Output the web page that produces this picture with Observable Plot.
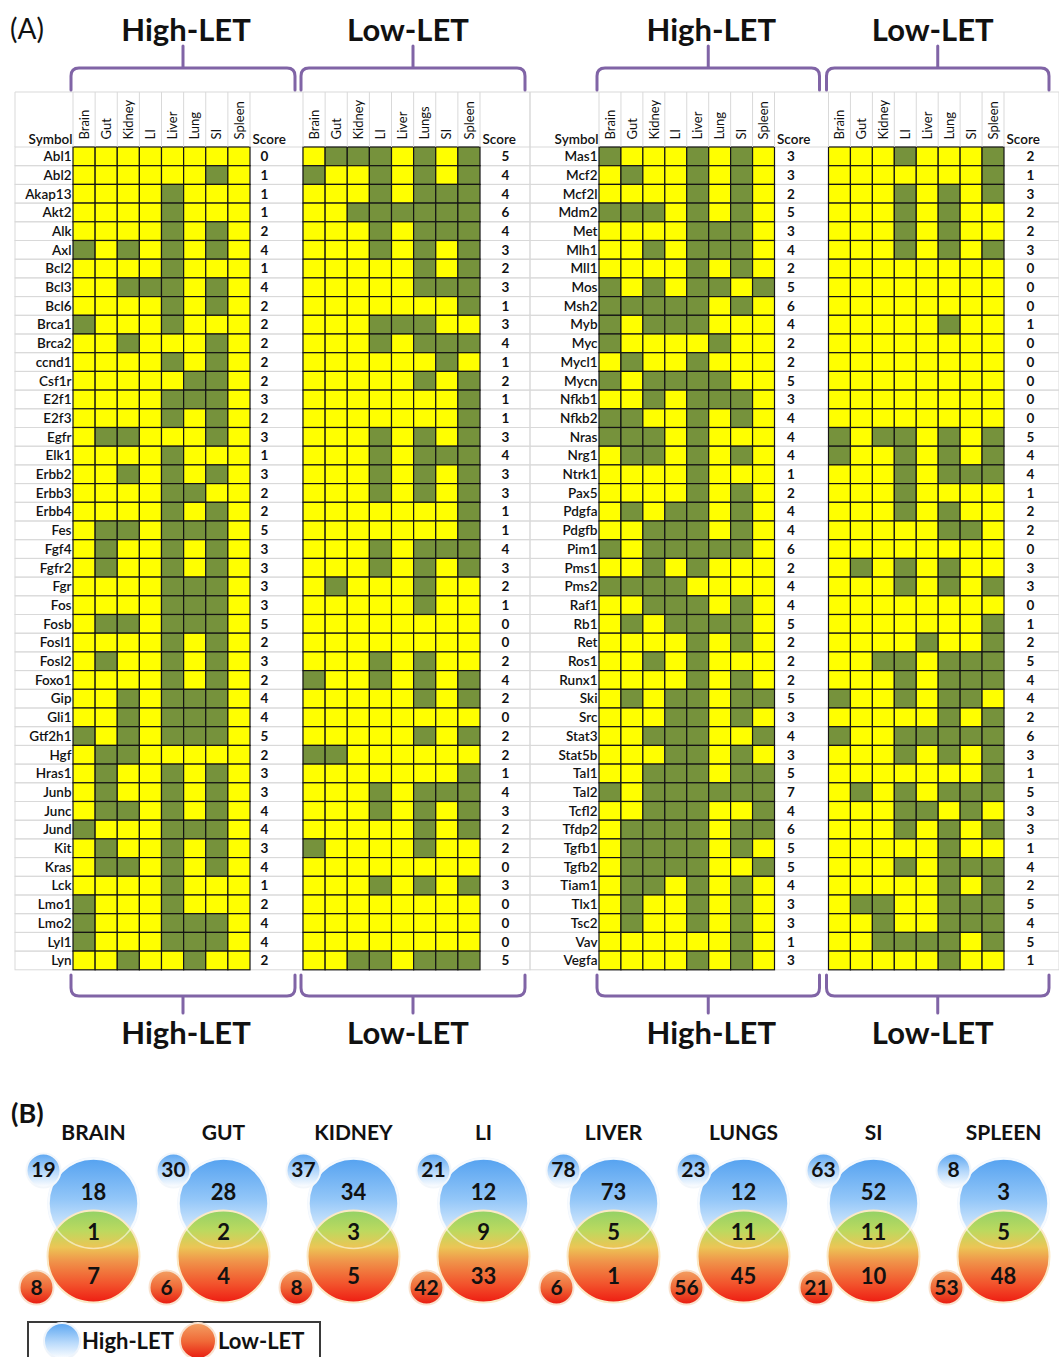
<!DOCTYPE html>
<html><head><meta charset="utf-8">
<script src="https://cdn.jsdelivr.net/npm/d3@7"></script>
<script src="https://cdn.jsdelivr.net/npm/@observablehq/plot@0.6"></script>
<style>
html,body{margin:0;padding:0;background:#fff;}
#fig{position:relative;width:1059px;height:1357px;overflow:hidden;background:#fff;font-family:Lato,"Open Sans",sans-serif;}
#fig > svg{position:absolute;}
</style></head><body><div id="fig"></div>
<script>
// ---------------- DATA ----------------
const organs = ["Brain","Gut","Kidney","LI","Liver","Lung","SI","Spleen"];
const highLabels = ["Brain","Gut","Kidney","LI","Liver","Lung","SI","Spleen"];
const leftLowLabels = ["Brain","Gut","Kidney","LI","Liver","Lungs","SI","Spleen"];
const rightLowLabels = ["Brain","Gut","Kidney","LI","Liver","Lung","SI","Spleen"];

const leftSymbols = ["Abl1","Abl2","Akap13","Akt2","Alk","Axl","Bcl2","Bcl3","Bcl6","Brca1","Brca2","ccnd1","Csf1r","E2f1","E2f3","Egfr","Elk1","Erbb2","Erbb3","Erbb4","Fes","Fgf4","Fgfr2","Fgr","Fos","Fosb","Fosl1","Fosl2","Foxo1","Gip","Gli1","Gtf2h1","Hgf","Hras1","Junb","Junc","Jund","Kit","Kras","Lck","Lmo1","Lmo2","Lyl1","Lyn"];
// one string per gene, one character per organ (1 = dark cell)
const leftHigh = ["00000000","00000010","00001000","00001000","00001010","10101010","00001000","00111010","00001010","10001000",
"00100010","00001010","00000110","00001110","00001010","01100010","00001000","00101010","00001100","00001010",
"01101110","01001010",
"01001010","00001110","00001110","01101110","00001010","01001010","00001010","00101110","00101110","10101110",
"01100000","01001010","01001010","01101010","10001110","01001010","01101010","00001000","10001000","10001110",
"10001110","00100100"];
const leftHighScore = [0,1,1,1,2,4,1,4,2,2,2,2,2,3,2,3,1,3,2,2,5,3,3,3,3,5,2,3,2,4,4,5,2,3,3,4,4,3,4,1,2,4,4,2];
const leftLow = ["01110101","10010101","00010111","00111111","00010111","00010101","00000101","00000111","00000001","00011100",
"00010111","00000010","00000101","00000001","00000001","00010101","00010111","00010101","00010101","00000001",
"00000001","00010111",
"00010101","01000100","00000100","00000000","00000000","00010100","10010101","00000101","00000000","00000101",
"11000000","00000001","00010111","00010101","00000101","10000100","00000000","00010101","00000000","00000000",
"00000000","00110111"];
const leftLowScore = [5,4,4,6,4,3,2,3,1,3,4,1,2,1,1,3,4,3,3,1,1,4,3,2,1,0,0,2,4,2,0,2,2,1,4,3,2,2,0,3,0,0,0,5];

const rightSymbols = ["Mas1","Mcf2","Mcf2l","Mdm2","Met","Mlh1","Mll1","Mos","Msh2","Myb","Myc","Mycl1","Mycn","Nfkb1","Nfkb2","Nras","Nrg1","Ntrk1","Pax5","Pdgfa","Pdgfb","Pim1","Pms1","Pms2","Raf1","Rb1","Ret","Ros1","Runx1","Ski","Src","Stat3","Stat5b","Tal1","Tal2","Tcfl2","Tfdp2","Tgfb1","Tgfb2","Tiam1","Tlx1","Tsc2","Vav","Vegfa"];
const rightHigh = ["10001010","01001010","00001010","11101010","00001110","00101110","00001010","10101101","11111010","10111000",
"10000100","01001000","10111100","00101110","11001010","11101000","01101010","00001000","00001010","01011010",
"00111010","10111110",
"00101000","11110000","00111010","01011110","00001010","00101000","00001010","01011011","00011010","00111001",
"00011010","00111011","10111111","00111001","01111011","01111010","01111001","01101010","01001010","01001010",
"00000010","00001010"];
const rightHighScore = [3,3,2,5,3,4,2,5,6,4,2,2,5,3,4,4,4,1,2,4,4,6,2,4,4,5,2,2,2,5,3,4,3,5,7,4,6,5,5,4,3,3,1,3];
const rightLow = ["00010001","00000001","00010101","00010100","00010100","00010101","00000000","00000000","00000000","00000100",
"00000000","00000000","00000000","00000000","00000000","10110101","10010101","00010111","00010000","00010100",
"00000110","00000000",
"01010100","00010101","00000000","00000001","00001001","00110111","00010111","10010110","00000101","10011111",
"00010101","00000001","01010111","00011010","00010101","00000100","00010111","00000101","01100111","00100111",
"00111101","00000100"];
const rightLowScore = [2,1,3,2,2,3,0,0,0,1,0,0,0,0,0,5,4,4,1,2,2,0,3,3,0,1,2,5,4,4,2,6,3,1,5,3,3,1,4,2,5,4,5,1];

// Venn (B)
const vennOrgans = ["BRAIN","GUT","KIDNEY","LI","LIVER","LUNGS","SI","SPLEEN"];
const highTotal = [19,30,37,21,78,23,63,8];
const highOnly  = [18,28,34,12,73,12,52,3];
const overlap   = [1,2,3,9,5,11,11,5];
const lowOnly   = [7,4,5,33,1,45,10,48];
const lowTotal  = [8,6,8,42,6,56,21,53];

// ---------------- LAYOUT ----------------
const FONT = "Lato, 'Open Sans', sans-serif";
const YELLOW = "#ffff00", GREEN = "#76923c", PURPLE = "#8064a6", GRIDGREY = "#d9d9d9";
const ROW_TOP = 147, ROW_H = 18.7, PANEL_H = 975;
const panels = [
  {ox: 0,   width: 530, gl: 73, gw: 177,   gap: 53, symLeft: 15, scoreDx: [14, 25], symbols: leftSymbols, high: leftHigh, low: leftLow, highScore: leftHighScore, lowScore: leftLowScore, lowLabels: leftLowLabels},
  {ox: 526, width: 533, gl: 73, gw: 175.5, gap: 54, symLeft: 4,  scoreDx: [16, 26], symbols: rightSymbols, high: rightHigh, low: rightLow, highScore: rightHighScore, lowScore: rightLowScore, lowLabels: rightLowLabels}
];
const fig = document.getElementById("fig");

function panel(cfg) {
  const groups = ["High-LET", "Low-LET"];
  const cells = [], rows = [], scores = [];
  cfg.symbols.forEach((s, i) => {
    organs.forEach((o, j) => {
      cells.push({group: "High-LET", symbol: s, organ: o, v: +cfg.high[i][j]});
      cells.push({group: "Low-LET", symbol: s, organ: o, v: +cfg.low[i][j]});
    });
    rows.push({group: "High-LET", symbol: s});
    rows.push({group: "Low-LET", symbol: s});
    scores.push({group: "High-LET", symbol: s, score: cfg.highScore[i]});
    scores.push({group: "Low-LET", symbol: s, score: cfg.lowScore[i]});
  });
  const headers = [
    ...organs.map((o, j) => ({group: "High-LET", organ: o, label: highLabels[j]})),
    ...organs.map((o, j) => ({group: "Low-LET", organ: o, label: cfg.lowLabels[j]}))
  ];
  const mr = cfg.width - cfg.gl - 2 * cfg.gw - cfg.gap;
  const isH = d => d.group === "High-LET", isL = d => d.group === "Low-LET";
  return Plot.plot({
    width: cfg.width, height: PANEL_H,
    marginTop: ROW_TOP, marginBottom: PANEL_H - ROW_TOP - ROW_H * cfg.symbols.length,
    marginLeft: cfg.gl, marginRight: mr,
    style: {background: "transparent", fontFamily: FONT, overflow: "visible", color: "#111"},
    fx: {domain: groups, axis: null, label: null, paddingInner: cfg.gap / (cfg.gw + cfg.gap), paddingOuter: 0, round: false},
    x: {domain: organs, axis: null, padding: 0, round: false},
    y: {domain: cfg.symbols, axis: null, padding: 0, round: false},
    color: {type: "ordinal", domain: [0, 1], range: [YELLOW, GREEN]},
    marks: [
      Plot.cell(rows.filter(isH), {fx: "group", y: "symbol", fill: "none", stroke: GRIDGREY, strokeWidth: 1, insetLeft: -(cfg.gl - cfg.symLeft), insetRight: -cfg.gap}),
      Plot.cell(rows.filter(isL), {fx: "group", y: "symbol", fill: "none", stroke: GRIDGREY, strokeWidth: 1, insetLeft: 0, insetRight: -mr}),
      Plot.cell(cells, {fx: "group", x: "organ", y: "symbol", fill: "v", stroke: "#141414", strokeWidth: 1.2, inset: 0}),
      Plot.text(rows.filter(isH), {fx: "group", y: "symbol", text: "symbol", frameAnchor: "left", textAnchor: "end", lineAnchor: "middle", dx: -2, fontSize: 13.5, fontWeight: 600}),
      Plot.text(scores.filter(isH), {fx: "group", y: "symbol", text: "score", frameAnchor: "right", textAnchor: "middle", lineAnchor: "middle", dx: cfg.scoreDx[0], fontSize: 13.5, fontWeight: 700}),
      Plot.text(scores.filter(isL), {fx: "group", y: "symbol", text: "score", frameAnchor: "right", textAnchor: "middle", lineAnchor: "middle", dx: cfg.scoreDx[1], fontSize: 13.5, fontWeight: 700}),
      Plot.text(headers, {fx: "group", x: "organ", text: "label", rotate: -90, frameAnchor: "top", textAnchor: "start", lineAnchor: "middle", dy: -8, fontSize: 13, letterSpacing: "0.6px"}),
      Plot.text([{group: "High-LET", t: "Symbol"}], {fx: "group", text: "t", frameAnchor: "top-left", textAnchor: "end", lineAnchor: "bottom", dx: -1, dy: -4, fontSize: 13.5, fontWeight: 600}),
      Plot.text(groups.map(g => ({group: g, t: "Score"})), {fx: "group", text: "t", frameAnchor: "top-right", textAnchor: "start", lineAnchor: "bottom", dx: 2, dy: -4, fontSize: 13.5, fontWeight: 600})
    ]
  });
}

panels.forEach(cfg => {
  const svg = panel(cfg);
  svg.style.left = cfg.ox + "px";
  svg.style.top = "0px";
  fig.appendChild(svg);
});

// ---------------- VENN (B) ----------------
const VTOP = 1095;
const venn = vennOrgans.map((o, i) => ({organ: o, highTotal: highTotal[i], highOnly: highOnly[i], overlap: overlap[i], lowOnly: lowOnly[i], lowTotal: lowTotal[i]}));
function gradDefs() {
  const g = d3.create("svg:g");
  const defs = g.append("defs");
  const lin = (id, stops) => {
    const lg = defs.append("linearGradient").attr("id", id).attr("x1", 0).attr("y1", 0).attr("x2", 0).attr("y2", 1);
    stops.forEach(([o, c]) => lg.append("stop").attr("offset", o).attr("stop-color", c));
  };
  lin("gBlue", [[0, "#55a2f0"], [0.45, "#92c6f8"], [0.8, "#d9ebfd"], [1, "#ffffff"]]);
  lin("gRed", [[0, "#93d166"], [0.22, "#bcd95f"], [0.4, "#ecc555"], [0.55, "#f0944a"], [0.8, "#f2532c"], [1, "#ee1c12"]]);
  lin("gSmallBlue", [[0, "#5aa5f1"], [0.55, "#b9dafb"], [1, "#ffffff"]]);
  lin("gSmallRed", [[0, "#f3a063"], [0.5, "#f06a38"], [1, "#e8190f"]]);
  return g.node();
}
const vtxt = {frameAnchor: "top", textAnchor: "middle", lineAnchor: "middle", fontWeight: 700, fill: "#111"};
const vennPlot = Plot.plot({
  width: 1059, height: 240, margin: 0,
  style: {background: "transparent", fontFamily: FONT, overflow: "visible"},
  x: {type: "point", domain: vennOrgans, range: [92, 1004], padding: 0, axis: null},
  marks: [
    gradDefs,
    Plot.dot(venn, {x: "organ", frameAnchor: "top", dy: 108, r: 45, fill: "url(#gBlue)", stroke: "#eef5fd", strokeWidth: 2.5}),
    Plot.dot(venn, {x: "organ", frameAnchor: "top", dy: 161, r: 46, fill: "url(#gRed)", stroke: "#fbe9c6", strokeWidth: 2}),
    Plot.dot(venn, {x: "organ", frameAnchor: "top", dy: 108, r: 45, fill: "none", stroke: "#ffffff", strokeOpacity: 0.55, strokeWidth: 1.5}),
    Plot.dot(venn, {x: "organ", frameAnchor: "top", dx: -50, dy: 75, r: 17, fill: "url(#gSmallBlue)", stroke: "#f3f7fb", strokeWidth: 2}),
    Plot.dot(venn, {x: "organ", frameAnchor: "top", dx: -57, dy: 192, r: 17, fill: "url(#gSmallRed)", stroke: "#f9e2cf", strokeWidth: 2}),
    Plot.text(venn, {...vtxt, x: "organ", text: "organ", dy: 38, fontSize: 21}),
    Plot.text(venn, {...vtxt, x: "organ", text: "highTotal", dx: -50, dy: 75, fontSize: 21}),
    Plot.text(venn, {...vtxt, x: "organ", text: "highOnly", dy: 97, fontSize: 22}),
    Plot.text(venn, {...vtxt, x: "organ", text: "overlap", dy: 137, fontSize: 22}),
    Plot.text(venn, {...vtxt, x: "organ", text: "lowOnly", dy: 181, fontSize: 22}),
    Plot.text(venn, {...vtxt, x: "organ", text: "lowTotal", dx: -57, dy: 193, fontSize: 21})
  ]
});
vennPlot.style.left = "0px";
vennPlot.style.top = VTOP + "px";
fig.appendChild(vennPlot);

// ---------------- DECOR: titles, brackets, header grid, legend ----------------
const deco = d3.select(fig).append("svg").attr("width", 1059).attr("height", 1357)
  .style("left", "0px").style("top", "0px").style("pointer-events", "none").style("font-family", FONT);
const ddefs = deco.append("defs");
[["lgBlue", [[0, "#5aa5f1"], [0.55, "#b9dafb"], [1, "#ffffff"]]], ["lgRed", [[0, "#f3a063"], [0.5, "#f06a38"], [1, "#e8190f"]]]].forEach(([id, stops]) => {
  const lg = ddefs.append("linearGradient").attr("id", id).attr("x1", 0).attr("y1", 0).attr("x2", 0).attr("y2", 1);
  stops.forEach(([o, c]) => lg.append("stop").attr("offset", o).attr("stop-color", c));
});
// header row grid lines
deco.append("line").attr("x1", 15).attr("x2", 1059).attr("y1", 92).attr("y2", 92).attr("stroke", GRIDGREY);
panels.forEach(cfg => {
  const hl = cfg.ox + cfg.gl, ll = hl + cfg.gw + cfg.gap;
  const xs = [cfg.ox + cfg.symLeft, ll + cfg.gw + (cfg.width - cfg.gl - 2 * cfg.gw - cfg.gap)];
  [hl, ll].forEach(b => { for (let k = 0; k <= 8; k++) xs.push(b + k * cfg.gw / 8); });
  xs.forEach(x => deco.append("line").attr("x1", x).attr("x2", x).attr("y1", 92).attr("y2", ROW_TOP).attr("stroke", GRIDGREY));
  // brackets + labels
  [[hl, "High-LET", 3], [ll, "Low-LET", -5]].forEach(([b, lab, tdx]) => {
    const x1 = b - 2, x2 = b + cfg.gw + 45, cx = (x1 + x2) / 2, r = 8;
    const top = `M${x1},90 V${68 + r} Q${x1},68 ${x1 + r},68 H${x2 - r} Q${x2},68 ${x2},${68 + r} V90 M${cx},68 V46`;
    const yb = 996, bot = `M${x1},975 V${yb - r} Q${x1},${yb} ${x1 + r},${yb} H${x2 - r} Q${x2},${yb} ${x2},${yb - r} V975 M${cx},${yb} V1013`;
    [top, bot].forEach(p => deco.append("path").attr("d", p).attr("fill", "none").attr("stroke", PURPLE).attr("stroke-width", 3).attr("stroke-linecap", "round").attr("stroke-linejoin", "round"));
    deco.append("text").attr("x", cx + tdx).attr("y", 41).attr("text-anchor", "middle").attr("font-size", 31).attr("font-weight", 700).attr("fill", "#111").text(lab);
    deco.append("text").attr("x", cx + tdx).attr("y", 1044).attr("text-anchor", "middle").attr("font-size", 31).attr("font-weight", 700).attr("fill", "#111").text(lab);
  });
});
deco.append("text").attr("x", 10).attr("y", 39).attr("font-size", 28).attr("fill", "#111").text("(A)");
deco.append("text").attr("x", 11).attr("y", 1123).attr("font-size", 27).attr("font-weight", 700).attr("fill", "#111").text("(B)");
// legend
const lgd = deco.append("g");
lgd.append("rect").attr("x", 28).attr("y", 1322).attr("width", 292).attr("height", 45).attr("fill", "#fff").attr("stroke", "#3a3a3a").attr("stroke-width", 2);
lgd.append("circle").attr("cx", 62).attr("cy", 1341).attr("r", 18).attr("fill", "url(#lgBlue)").attr("stroke", "#eef4fb").attr("stroke-width", 2);
lgd.append("text").attr("x", 82).attr("y", 1349).attr("font-size", 22).attr("font-weight", 700).attr("fill", "#111").text("High-LET");
lgd.append("circle").attr("cx", 198).attr("cy", 1341).attr("r", 18).attr("fill", "url(#lgRed)").attr("stroke", "#f9e2cf").attr("stroke-width", 2);
lgd.append("text").attr("x", 218).attr("y", 1349).attr("font-size", 22).attr("font-weight", 700).attr("fill", "#111").text("Low-LET");
</script></body></html>
